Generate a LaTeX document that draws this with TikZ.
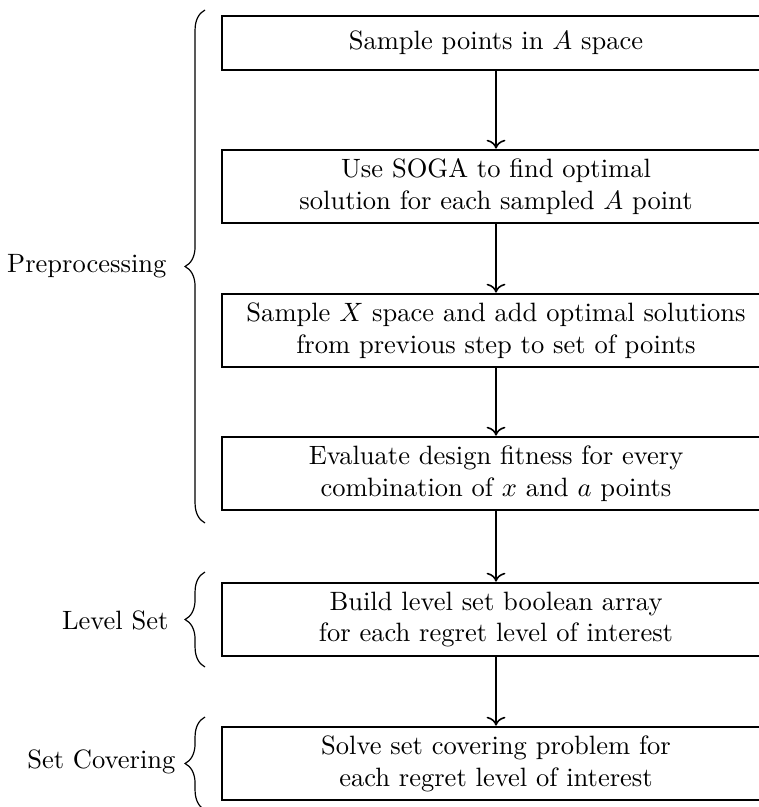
\documentclass[tikz,border=0pt]{standalone}
\usetikzlibrary{decorations.pathreplacing,arrows.meta}
\begin{document}
\begin{tikzpicture}[x=0.377pt,y=-0.377pt,
  stepbox/.style={draw, line width=1.05pt, minimum width=206.6pt, inner sep=0pt, align=center},
  shortbox/.style={stepbox, minimum height=20.4pt},
  tallbox/.style={stepbox, minimum height=27.5pt},
  flow/.style={-{To[scale=1.15]}, line width=0.6pt},
  groupbrace/.style={decorate, decoration={brace, amplitude=7.5pt}, line width=0.45pt},
  grouplabel/.style={anchor=east, inner sep=0pt}]
\useasboundingbox (0,0) rectangle (759,807);

% process boxes
\node[shortbox] (b1) at (496,43) {Sample points in $A$ space};
\node[tallbox]  (b2) at (496,186.5) {Use SOGA to find optimal\\solution for each sampled $A$ point};
\node[tallbox]  (b3) at (496,330.5) {Sample $X$ space and add optimal solutions\\from previous step to set of points};
\node[tallbox]  (b4) at (496,473.5) {Evaluate design fitness for every\\combination of $x$ and $a$ points};
\node[tallbox]  (b5) at (496,619.5) {Build level set boolean array\\for each regret level of interest};
\node[tallbox]  (b6) at (496,763.5) {Solve set covering problem for\\each regret level of interest};

% flow arrows
\draw[flow] (b1) -- (b2);
\draw[flow] (b2) -- (b3);
\draw[flow] (b3) -- (b4);
\draw[flow] (b4) -- (b5);
\draw[flow] (b5) -- (b6);

% group braces
\coordinate (p1) at (205,523);
\coordinate (p2) at (205,10);
\coordinate (l1) at (205,667);
\coordinate (l2) at (205,572);
\coordinate (s1) at (205,810);
\coordinate (s2) at (205,717);
\draw[groupbrace] (p1) -- (p2);
\draw[groupbrace] (l1) -- (l2);
\draw[groupbrace] (s1) -- (s2);

% group labels
\node[grouplabel] (gp) at (167,266) {Preprocessing};
\node[grouplabel] (gl) at (169,620) {Level Set};
\node[grouplabel] (gs) at (176,762) {Set Covering};
\end{tikzpicture}
\end{document}
